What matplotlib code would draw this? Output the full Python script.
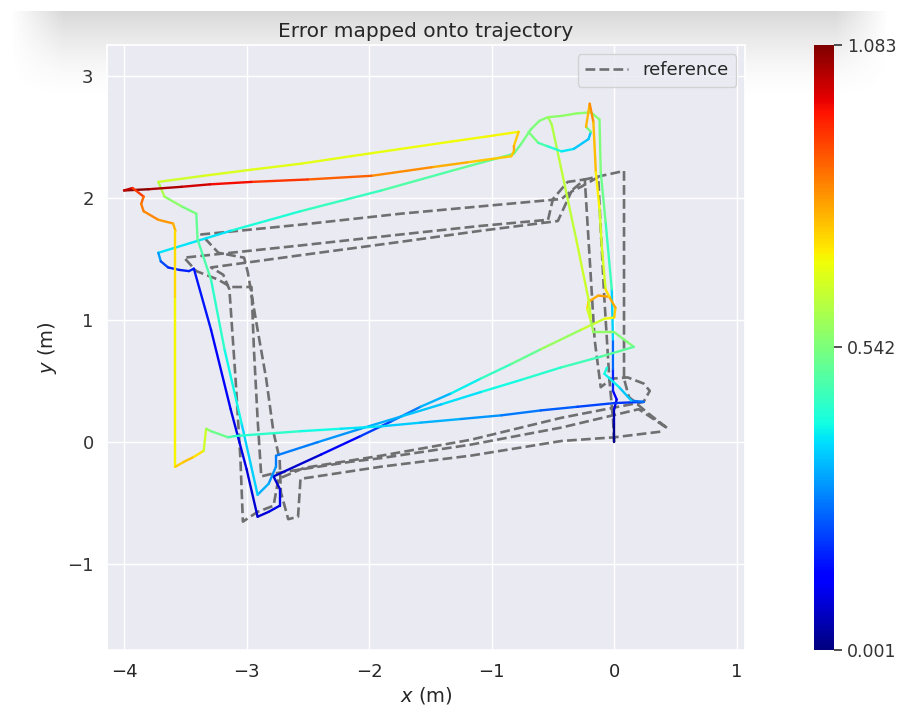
import numpy as np
import matplotlib
matplotlib.use("Agg")
import matplotlib.pyplot as plt
import seaborn as sns
from matplotlib.collections import LineCollection
from matplotlib.cm import ScalarMappable
from matplotlib.colors import Normalize

sns.set_theme(style="darkgrid")
plt.rcParams['font.family'] = ['DejaVu Sans']
plt.rcParams['ytick.right'] = True
plt.rcParams['ytick.major.size'] = 6
plt.rcParams['ytick.major.width'] = 1.2
plt.rcParams['ytick.color'] = '#333333'

# estimated trajectory, split in continuous pieces: x (m), y (m), APE error (m)
a_x = [0.00, 0.00, 0.00, 0.02, -0.01, -0.01, -0.01, -0.02, -0.07, -0.11, -0.12, -0.19, -0.31, -0.43, -0.54, -0.61, -0.68, -0.76, -0.82]
a_y = [0.00, 0.15, 0.27, 0.35, 0.42, 0.60, 0.84, 1.25, 1.80, 2.21, 2.64, 2.70, 2.69, 2.67, 2.66, 2.63, 2.56, 2.44, 2.36]
a_e = [0.001, 0.03, 0.07, 0.12, 0.15, 0.20, 0.30, 0.42, 0.50, 0.54, 0.55, 0.56, 0.57, 0.57, 0.56, 0.55, 0.54, 0.53, 0.52]

b_x = [-0.82, -1.33, -1.90, -2.56, -3.13, -3.72, -3.70, -3.64, -3.55, -3.47, -3.43, -3.29, -3.13, -3.00, -2.91, -2.82, -2.73, -2.73, -2.78]
b_y = [2.36, 2.22, 2.06, 1.89, 1.73, 1.55, 1.48, 1.43, 1.41, 1.40, 1.42, 0.92, 0.27, -0.22, -0.61, -0.57, -0.52, -0.38, -0.28]
b_e = [0.52, 0.50, 0.47, 0.44, 0.40, 0.36, 0.24, 0.19, 0.17, 0.17, 0.18, 0.14, 0.11, 0.09, 0.08, 0.09, 0.11, 0.10, 0.06]

c_x = [-2.78, -2.39, -2.07, -1.82, -1.58, -1.33, -1.09, -0.84, -0.60, -0.27, -0.08, 0.00, 0.01, -0.04, -0.13, -0.21, -0.22, -0.19, -0.17, 0.00, 0.16]
c_y = [-0.28, -0.10, 0.05, 0.17, 0.29, 0.40, 0.52, 0.64, 0.76, 0.92, 1.01, 1.02, 1.10, 1.19, 1.20, 1.15, 1.09, 0.99, 0.90, 0.90, 0.78]
c_e = [0.05, 0.10, 0.17, 0.23, 0.30, 0.36, 0.42, 0.48, 0.54, 0.62, 0.66, 0.72, 0.78, 0.80, 0.80, 0.77, 0.70, 0.62, 0.58, 0.56, 0.54]

d_x = [0.16, -0.11, -0.44, -0.76, -1.09, -1.41, -1.74, -2.07, -2.42, -2.76, -2.76, -2.82, -2.91, -3.04, -3.18, -3.29, -3.40, -3.41, -3.53, -3.67, -3.72]
d_y = [0.78, 0.70, 0.61, 0.51, 0.41, 0.31, 0.21, 0.11, 0.00, -0.11, -0.20, -0.34, -0.43, 0.15, 0.76, 1.33, 1.66, 1.87, 1.93, 2.01, 2.13]
d_e = [0.52, 0.48, 0.45, 0.42, 0.39, 0.36, 0.33, 0.31, 0.28, 0.26, 0.28, 0.31, 0.34, 0.38, 0.42, 0.46, 0.50, 0.52, 0.55, 0.58, 0.63]

e_x = [-3.72, -3.35, -2.96, -2.55, -2.15, -1.74, -1.33, -1.05, -0.78, -0.82, -0.82, -0.84]
e_y = [2.13, 2.18, 2.23, 2.28, 2.34, 2.40, 2.46, 2.50, 2.54, 2.42, 2.38, 2.34]
e_e = [0.64, 0.66, 0.67, 0.68, 0.68, 0.69, 0.69, 0.70, 0.70, 0.80, 0.78, 0.74]

f_x = [-0.84, -1.20, -1.49, -1.98, -2.50, -2.96, -3.30, -3.53, -3.80, -4.00, -3.93, -3.84, -3.86, -3.84, -3.72, -3.60, -3.58,
       -3.58, -3.58, -3.58, -3.51, -3.43, -3.35, -3.33, -3.29, -3.15, -3.10]
f_y = [2.34, 2.29, 2.25, 2.18, 2.15, 2.13, 2.11, 2.09, 2.07, 2.06, 2.08, 2.01, 1.95, 1.89, 1.82, 1.79, 1.73,
       1.17, 0.35, -0.20, -0.16, -0.12, -0.07, 0.11, 0.09, 0.04, 0.05]
f_e = [0.74, 0.77, 0.80, 0.85, 0.90, 0.95, 0.99, 1.02, 1.06, 1.083, 0.96, 0.88, 0.85, 0.84, 0.82, 0.80, 0.76,
       0.71, 0.69, 0.72, 0.78, 0.75, 0.70, 0.60, 0.55, 0.49, 0.46]

g_x = [-3.10, -2.56, -2.23, -1.90, -1.58, -1.25, -0.92, -0.60, -0.30, 0.00, 0.24, 0.14, 0.04, -0.08, -0.06]
g_y = [0.05, 0.09, 0.11, 0.13, 0.16, 0.19, 0.22, 0.26, 0.29, 0.32, 0.33, 0.34, 0.45, 0.56, 0.61]
g_e = [0.46, 0.42, 0.39, 0.37, 0.34, 0.31, 0.28, 0.25, 0.22, 0.20, 0.19, 0.32, 0.38, 0.40, 0.42]

h_x = [-0.54, -0.51, -0.45, -0.31, -0.21, -0.19]
h_y = [2.66, 2.60, 2.32, 1.66, 1.17, 1.02]
h_e = [0.58, 0.60, 0.62, 0.64, 0.65, 0.63]

i_x = [-0.70, -0.62, -0.54, -0.43, -0.33, -0.21, -0.19, -0.23, -0.20, -0.17, -0.15, -0.12, -0.10, -0.07, -0.04]
i_y = [2.54, 2.45, 2.42, 2.38, 2.40, 2.48, 2.54, 2.58, 2.77, 2.62, 2.21, 1.91, 1.58, 1.25, 1.19]
i_e = [0.58, 0.50, 0.45, 0.40, 0.37, 0.33, 0.36, 0.70, 0.85, 0.80, 0.74, 0.68, 0.64, 0.68, 0.78]

# reference trajectory (ground truth)
ref_x = [0.00, -0.01, -0.04, -0.08, -0.11, -0.13, -0.27, -0.35, -0.46, -1.09, -1.74, -2.56, -3.29, -3.19, -3.14, -3.09,
         -3.05, -3.03, -2.91, -2.78, -2.74, -2.53, -2.09, -1.90, -1.17, -0.43, 0.24, 0.29, 0.24, 0.11, -0.02, -0.11,
         -0.16, -0.20, -0.24, -0.38, -0.50, -0.54, -1.09, -1.74, -2.56, -3.51, -3.41, -3.23, -3.13, -2.96, -2.94, -2.91,
         -2.88, -2.80, -2.15, -1.90, -1.17, -0.43, 0.20, 0.44, 0.26, 0.12, 0.08, 0.08, 0.08, -0.24, -0.43, -1.09, -1.74,
         -2.56, -3.37, -3.23, -3.02, -2.99, -2.91, -2.84, -2.78, -2.73, -2.72, -2.66, -2.58, -2.56, -1.90, -1.17, -0.43,
         0.00, 0.41]
ref_y = [0.00, 0.19, 0.52, 1.17, 1.74, 2.17, 2.09, 2.05, 1.81, 1.73, 1.64, 1.53, 1.43, 1.37, 1.25, 0.52,
         -0.14, -0.65, -0.57, -0.52, -0.30, -0.21, -0.14, -0.11, 0.02, 0.20, 0.33, 0.42, 0.48, 0.53, 0.52, 0.45,
         0.84, 1.50, 2.15, 2.13, 1.99, 1.82, 1.77, 1.70, 1.61, 1.51, 1.40, 1.33, 1.27, 1.27, 0.76, 0.19,
         -0.28, -0.26, -0.16, -0.13, -0.02, 0.12, 0.27, 0.11, 0.25, 0.37, 0.52, 1.17, 2.22, 2.15, 1.99, 1.93, 1.87,
         1.78, 1.70, 1.55, 1.51, 1.39, 0.92, 0.52, 0.08, -0.14, -0.41, -0.63, -0.61, -0.30, -0.20, -0.11, 0.01,
         0.04, 0.09]

err_min, err_max = 0.001, 1.083

fig = plt.figure(figsize=(8.98, 7.15), dpi=100)

# light grey shadow band along the top of the screenshot
shade = fig.add_axes([0.01, 0.86, 0.98, 0.125], zorder=-5)
rows = np.linspace(0.0, 1.0, 60)[:, None]
cols = np.linspace(0.0, 1.0, 200)[None, :]
edge = np.clip(np.minimum(cols, 1 - cols) / 0.06, 0, 1)
img = np.zeros((60, 200, 4))
img[..., :3] = 0.45
img[..., 3] = (rows ** 1.6) * edge * 0.28
shade.imshow(img, aspect='auto', extent=[0, 1, 0, 1], origin='lower')
shade.axis('off')

ax = fig.add_axes([0.119, 0.091, 0.711, 0.846])

ax.plot(ref_x, ref_y, '--', color='#5a5a5a', alpha=0.85, lw=1.9, label='reference', zorder=2)

norm = Normalize(vmin=err_min, vmax=err_max)
pieces = [(a_x, a_y, a_e), (b_x, b_y, b_e), (c_x, c_y, c_e), (d_x, d_y, d_e), (e_x, e_y, e_e),
          (f_x, f_y, f_e), (g_x, g_y, g_e), (h_x, h_y, h_e), (i_x, i_y, i_e)]
segs, vals = [], []
for px, py, pe in pieces:
    pts = np.column_stack([px, py])
    pe = np.asarray(pe)
    segs.extend(np.stack([pts[:-1], pts[1:]], axis=1))
    vals.extend((pe[:-1] + pe[1:]) / 2)
lc = LineCollection(segs, cmap='jet', norm=norm, linewidths=1.7, capstyle='round', joinstyle='round', zorder=3)
lc.set_array(np.array(vals))
ax.add_collection(lc)

ax.set_xlim(-4.14, 1.07)
ax.set_ylim(-1.70, 3.25)
ax.set_xticks([-4, -3, -2, -1, 0, 1])
ax.set_yticks([-1, 0, 1, 2, 3])
ax.tick_params(left=False, right=False, bottom=False, labelsize=13)
ax.set_xlabel('$x$ (m)', fontsize=14, labelpad=3)
ax.set_ylabel('$y$ (m)', fontsize=14, labelpad=6)
ax.set_title('Error mapped onto trajectory', fontsize=14.5, pad=6)
ax.legend(loc='upper right', fontsize=13, frameon=True, handlelength=2.4)

cax = fig.add_axes([0.906, 0.091, 0.023, 0.846])
sm = ScalarMappable(norm=norm, cmap='jet')
cbar = fig.colorbar(sm, cax=cax, ticks=[0.001, 0.542, 1.083])
cbar.ax.set_yticklabels(['0.001', '0.542', '1.083'])
cbar.outline.set_visible(False)
cbar.ax.tick_params(axis='y', which='major', right=True, left=False, direction='out',
                    length=6, width=1.2, pad=3, color='#333333', labelsize=12.5)

fig.savefig('out.png', dpi=100)
